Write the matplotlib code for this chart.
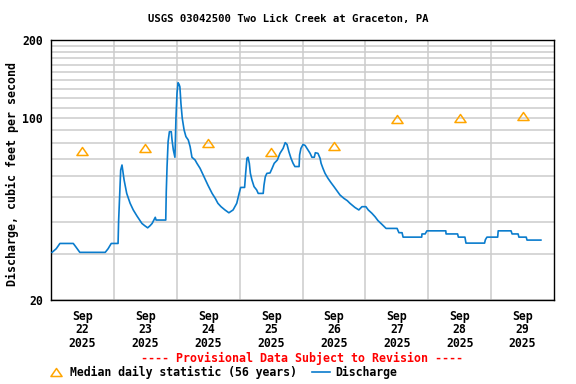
import matplotlib
matplotlib.use("Agg")
import matplotlib.pyplot as plt
from matplotlib.lines import Line2D
from matplotlib.path import Path
import numpy as np

# ---- data ----
title = "USGS 03042500 Two Lick Creek at Graceton, PA"
ylabel = "Discharge, cubic feet per second"
month = "Sep"
year = "2025"
days = ["22", "23", "24", "25", "26", "27", "28", "29"]

# median daily statistic at noon of each day
median_vals = [75, 77, 80, 74, 78, 99, 100, 102]

# discharge: hours since 2025-09-22 00:00 and cfs
q_hours = [0.4, 2.0, 3.4, 8.5, 9.5, 11.0, 20.7, 21.8, 23.0, 25.6, 25.8, 26.1, 26.6,
           27.1, 27.9, 28.9, 30.2, 31.4, 32.8, 34.7, 35.8, 36.9, 37.8, 38.6, 39.8,
           40.1, 43.8, 44.0, 44.3, 44.7, 45.2, 45.9, 46.2, 46.7, 47.3, 47.7, 48.1,
           48.5, 48.9, 49.2, 49.6, 50.1, 50.8, 51.5, 52.4, 53.1, 53.8, 55.0, 55.7,
           56.9, 58.4, 59.9, 61.5, 62.7, 63.7, 64.9, 66.4, 67.9, 69.5, 70.9, 71.8,
           72.4, 73.9, 74.3, 74.8, 75.2, 75.7, 76.1, 76.7, 77.5, 78.5, 79.1, 81.0,
           81.3, 81.8, 82.4, 83.6, 84.4, 85.2, 86.4, 87.4, 88.6, 89.4, 90.1, 90.8,
           91.6, 92.4, 93.1, 94.7, 94.9, 95.4, 96.2, 97.0, 98.1, 98.9, 99.6, 100.5,
           100.9, 101.9, 102.7, 103.1, 103.8, 104.6, 105.7, 106.9, 108.0, 109.2,
           110.3, 111.8, 113.1, 114.1, 116.0, 117.5, 118.7, 120.2, 121.1, 122.5,
           123.7, 124.8, 126.3, 127.9, 132.1, 132.8, 134.0, 134.4, 141.5, 141.6,
           142.8, 143.5, 150.7, 150.8, 155.2, 155.5, 158.0, 158.4, 165.5, 165.8,
           166.4, 170.5, 170.7, 175.6, 176.0, 178.3, 178.6, 181.4, 181.7, 187.0]
q_vals = [30.5, 31.5, 33.0, 33.0, 32.0, 30.5, 30.5, 31.5, 33.0, 33.0, 40.0, 47.8, 63.2,
          66.1, 57.9, 51.4, 47.1, 44.4, 42.1, 39.4, 38.6, 37.9, 38.6, 39.4, 41.6,
          40.6, 40.6, 52.2, 65.2, 81.3, 88.8, 88.8, 82.5, 75.5, 70.8, 100.0, 124.8,
          137.0, 135.0, 132.0, 114.0, 100.0, 90.2, 85.0, 82.5, 77.8, 70.8, 69.1, 67.1,
          64.2, 59.6, 55.3, 51.4, 49.2, 47.1, 45.7, 44.4, 43.3, 44.4, 47.1, 51.4,
          54.2, 54.2, 61.4, 70.2, 70.8, 67.1, 61.4, 57.9, 54.6, 53.0, 51.4, 51.4,
          55.3, 59.6, 61.4, 61.6, 64.2, 67.1, 69.1, 73.3, 76.6, 80.6, 79.3, 74.4,
          70.2, 67.1, 65.2, 65.2, 72.3, 76.6, 79.3, 78.6, 75.5, 73.3, 70.8, 70.8,
          73.7, 73.3, 70.2, 67.1, 64.2, 61.4, 58.8, 56.5, 54.6, 52.5,
          50.7, 49.2, 48.2, 47.1, 45.4, 44.4, 45.7, 45.7, 44.4, 43.1,
          41.8, 40.4, 39.1, 37.7, 37.7, 36.3, 36.3, 34.9, 34.9, 35.9,
          35.9, 36.9, 36.9, 35.9, 35.9, 34.9, 34.9, 33.1, 33.1, 34.1,
          34.9, 34.9, 36.9, 36.9, 35.9, 35.9, 34.9, 34.9, 34.0, 34.0]

# ---- styling ----
FONT = "DejaVu Sans Mono"
plt.rcParams["font.family"] = FONT
plt.rcParams["font.weight"] = "bold"
line_color = "#0a7ccd"
tri_color = "#ffa500"
grid_color = "#cccccc"

fig = plt.figure(figsize=(5.76, 3.84), dpi=100)
ax = fig.add_axes([51/576, 1-300/384, 503/576, 260/384])

n_days = len(days)
ax.set_xlim(0, 24*n_days)
ax.set_yscale("log")
ax.set_ylim(20, 200)

# grid
ax.set_yticks([20, 100, 200])
ax.set_yticklabels(["20", "100", "200"], fontsize=8.3, fontweight="bold")
ax.set_yticks(list(range(30, 200, 10)), minor=True)
ax.yaxis.set_minor_formatter(matplotlib.ticker.NullFormatter())
ax.set_xticks([24*i for i in range(1, n_days)], minor=True)
ax.set_xticks([24*i + 12 for i in range(n_days)])
ax.set_xticklabels([f"{month}\n{d}\n{year}" for d in days], fontsize=8.3,
                   fontweight="bold", linespacing=1.05)
ax.grid(True, which="minor", color=grid_color, lw=1.1)
ax.grid(True, which="major", axis="y", color=grid_color, lw=1.1)
ax.tick_params(which="both", length=0)
ax.tick_params(axis="y", pad=6)
ax.tick_params(axis="x", pad=7)
ax.set_axisbelow(True)
for s in ax.spines.values():
    s.set_color("black")
    s.set_linewidth(1.0)

# discharge
ax.plot(q_hours, q_vals, color=line_color, lw=1.2, zorder=3)

# median triangles
tri = Path([(-1, -0.72), (1, -0.72), (0, 0.72), (-1, -0.72)],
           [Path.MOVETO, Path.LINETO, Path.LINETO, Path.CLOSEPOLY])
med_x = [24*i + 12 for i in range(n_days)]
ax.plot(med_x, median_vals, linestyle="none", marker=tri, ms=8,
        mfc="none", mec=tri_color, mew=1.1, zorder=4)

fig.text(288/576, 1-19/384, title, ha="center", va="center", fontsize=7.7,
         fontweight="bold")
fig.text(12/576, 1-174/384, ylabel, ha="center", va="center", rotation=90,
         fontsize=8.4, fontweight="bold")
fig.text(302/576, 1-358/384, "---- Provisional Data Subject to Revision ----",
         ha="center", va="center", fontsize=8.4, fontweight="bold", color="red")

handles = [Line2D([], [], linestyle="none", marker=tri, ms=8, mfc="none",
                  mec=tri_color, mew=1.1),
           Line2D([], [], color=line_color, lw=1.2)]
labels = ["Median daily statistic (56 years)", "Discharge"]
leg = fig.legend(handles, labels, loc="center left",
                 bbox_to_anchor=(47/576, 1-372/384), ncol=2, frameon=False,
                 prop={"family": FONT, "weight": "bold", "size": 8.3},
                 handlelength=1.6, handletextpad=0.4, columnspacing=1.3,
                 borderpad=0, borderaxespad=0)

fig.savefig("out.png", dpi=100)
